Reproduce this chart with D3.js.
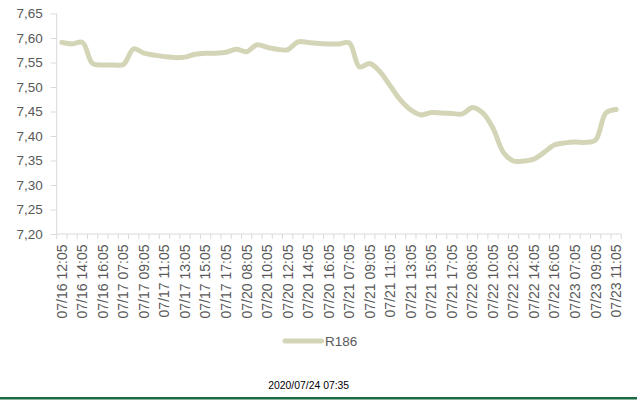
<!DOCTYPE html>
<meta charset="utf-8">
<style>
    body { margin: 0; background: #fff; }
    svg { display: block; }
    text { font-family: "Liberation Sans", Arial, sans-serif; fill: #595959; }
    .axis path, .axis line { stroke: #d9d9d9; }
</style>
<body>
<script src="https://d3js.org/d3.v7.min.js"></script>
<script>

// Hourly fixings, 07/16 12:05 to 07/23 11:05
var categories = [
    "07/16 12:05", "07/16 13:05", "07/16 14:05", "07/16 15:05", "07/16 16:05", "07/16 17:05",
    "07/17 07:05", "07/17 08:05", "07/17 09:05", "07/17 10:05", "07/17 11:05", "07/17 12:05",
    "07/17 13:05", "07/17 14:05", "07/17 15:05", "07/17 16:05", "07/17 17:05",
    "07/20 07:05", "07/20 08:05", "07/20 09:05", "07/20 10:05", "07/20 11:05", "07/20 12:05",
    "07/20 13:05", "07/20 14:05", "07/20 15:05", "07/20 16:05", "07/20 17:05",
    "07/21 07:05", "07/21 08:05", "07/21 09:05", "07/21 10:05", "07/21 11:05", "07/21 12:05",
    "07/21 13:05", "07/21 14:05", "07/21 15:05", "07/21 16:05", "07/21 17:05",
    "07/22 07:05", "07/22 08:05", "07/22 09:05", "07/22 10:05", "07/22 11:05", "07/22 12:05",
    "07/22 13:05", "07/22 14:05", "07/22 15:05", "07/22 16:05", "07/22 17:05",
    "07/23 07:05", "07/23 08:05", "07/23 09:05", "07/23 10:05", "07/23 11:05"
];

var r186 = [
    7.591, 7.588, 7.591, 7.548, 7.545, 7.545,
    7.546, 7.578, 7.569, 7.565, 7.562, 7.560,
    7.561, 7.567, 7.569, 7.569, 7.571,
    7.577, 7.572, 7.586, 7.581, 7.577, 7.576,
    7.592, 7.591, 7.589, 7.588, 7.588,
    7.590, 7.541, 7.548, 7.531, 7.502, 7.473,
    7.453, 7.443, 7.448, 7.447, 7.446,
    7.445, 7.458, 7.447, 7.416, 7.367, 7.349,
    7.349, 7.353, 7.367, 7.382, 7.386,
    7.388, 7.387, 7.392, 7.447, 7.454
];

var yTicks = [7.20, 7.25, 7.30, 7.35, 7.40, 7.45, 7.50, 7.55, 7.60, 7.65];
var seriesName = "R186";
var stamp = "2020/07/24 07:35";

var W = 637, H = 411;
var plot = {left: 56.7, right: 621.3, top: 13.5, bottom: 234};

var svg = d3.select("body").append("svg")
    .attr("width", W)
    .attr("height", H);

var x = d3.scaleBand()
    .domain(categories)
    .range([plot.left, plot.right])
    .paddingInner(0)
    .paddingOuter(0);

var y = d3.scaleLinear()
    .domain([7.20, 7.65])
    .range([plot.bottom, plot.top]);

// y axis
var yAxis = svg.append("g")
    .attr("class", "axis")
    .attr("transform", "translate(" + plot.left + ",0)")
    .call(d3.axisLeft(y)
        .tickValues(yTicks)
        .tickSize(6)
        .tickPadding(8)
        .tickFormat(function(d) { return d3.format(".2f")(d).replace(".", ","); }));
yAxis.select(".domain").attr("d", "M0," + plot.top + "V" + plot.bottom);
yAxis.selectAll("text").style("font-size", "13.5px").attr("fill", "#595959");

// x axis: labels on every other category, ticks between categories
var xAxis = svg.append("g")
    .attr("class", "axis")
    .attr("transform", "translate(0," + plot.bottom + ")")
    .call(d3.axisBottom(x)
        .tickValues(categories.filter(function(d, i) { return i % 2 === 0; }))
        .tickSize(0)
        .tickPadding(0));
xAxis.select(".domain").attr("d", "M" + plot.left + ",0H" + plot.right);
xAxis.selectAll("text")
    .style("font-size", "14px")
    .attr("fill", "#595959")
    .attr("text-anchor", "end")
    .attr("transform", "rotate(-90)")
    .attr("x", -10.5)
    .attr("y", 0)
    .attr("dy", "0.35em");

svg.append("g")
    .attr("class", "axis")
    .selectAll("line")
    .data(d3.range(categories.length + 1))
    .enter().append("line")
    .attr("x1", function(i) { return plot.left + i * x.step(); })
    .attr("x2", function(i) { return plot.left + i * x.step(); })
    .attr("y1", plot.bottom)
    .attr("y2", plot.bottom + 5);

// series
var line = d3.line()
    .x(function(d, i) { return x(categories[i]) + x.bandwidth() / 2; })
    .y(function(d) { return y(d); })
    .curve(d3.curveCatmullRom.alpha(0.5));

svg.append("path")
    .datum(r186)
    .attr("d", line)
    .attr("fill", "none")
    .attr("stroke", "#d4d5b6")
    .attr("stroke-width", 5)
    .attr("stroke-linecap", "round")
    .attr("stroke-linejoin", "round");

// legend
var legend = svg.append("g").attr("transform", "translate(285,341)");
legend.append("line")
    .attr("x1", 0).attr("x2", 36.5)
    .attr("stroke", "#d4d5b6")
    .attr("stroke-width", 5)
    .attr("stroke-linecap", "round");
legend.append("text")
    .attr("x", 40)
    .attr("dy", "0.35em")
    .style("font-size", "13.5px")
    .text(seriesName);

// footer
svg.append("text")
    .attr("x", 308.7)
    .attr("y", 385)
    .attr("dy", "0.35em")
    .attr("text-anchor", "middle")
    .style("font-size", "10.4px")
    .style("fill", "#000")
    .text(stamp);

svg.append("line")
    .attr("x1", 0).attr("x2", W)
    .attr("y1", 398.3).attr("y2", 398.3)
    .attr("stroke", "#1b6a42")
    .attr("stroke-width", 2.5);

</script>
</body>
